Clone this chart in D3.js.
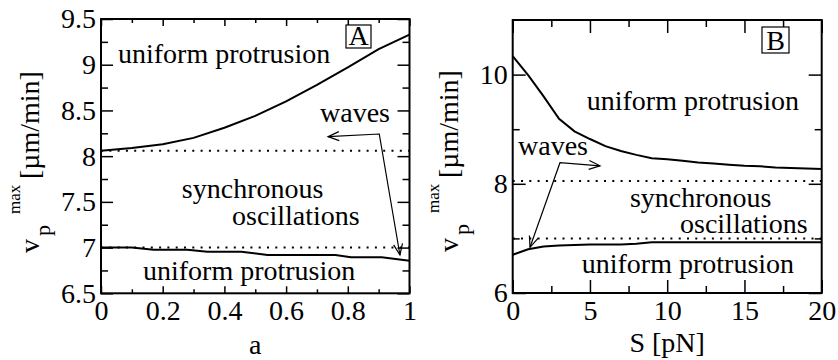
<!DOCTYPE html>
<html>
<head>
<meta charset="utf-8">
<script src="https://cdn.jsdelivr.net/npm/d3@7/dist/d3.min.js"></script>
</head>
<body style="margin:0;background:#fff">
<svg id="chart" width="838" height="360" font-family="Liberation Serif"></svg>
<script>
// Panel A: phase boundaries against a
const aGrid = [0, 0.1, 0.2, 0.3, 0.4, 0.5, 0.6, 0.7, 0.8, 0.9, 1];
const aUpper = [8.06, 8.09, 8.13, 8.2, 8.31, 8.44, 8.6, 8.78, 8.97, 9.17, 9.33];
const aLowerGrid = [0, 0.1, 0.17, 0.28, 0.345, 0.455, 0.54, 0.76, 0.81, 0.91, 1];
const aLower = [7.0, 7.0, 6.977, 6.977, 6.955, 6.955, 6.919, 6.919, 6.894, 6.894, 6.856];
const aDotted = [8.06, 7.0];
const aXTicks = [0, 0.2, 0.4, 0.6, 0.8, 1];
const aXMinor = [0.1, 0.3, 0.5, 0.7, 0.9];
const aYTicks = [6.5, 7, 7.5, 8, 8.5, 9, 9.5];
const aYMinor = [6.75, 7.25, 7.75, 8.25, 8.75, 9.25];

// Panel B: phase boundaries against S [pN]
const sGrid = [0, 1, 2, 3, 4, 5, 6, 7, 8, 9, 10, 11, 12, 13, 14, 15, 16, 17, 18, 19, 20];
const sUpper = [10.34, 9.99, 9.6, 9.19, 8.96, 8.82, 8.69, 8.6, 8.53, 8.47, 8.45, 8.42, 8.39, 8.37, 8.35, 8.33, 8.32, 8.3, 8.29, 8.28, 8.27];
const sLower = [6.7, 6.8, 6.85, 6.87, 6.88, 6.89, 6.89, 6.89, 6.9, 6.93, 6.93, 6.93, 6.93, 6.93, 6.93, 6.93, 6.93, 6.93, 6.93, 6.93, 6.93];
const sDotted = [8.05, 7.0];
const sXTicks = [0, 5, 10, 15, 20];
const sXMinor = [2.5, 7.5, 12.5, 17.5];
const sYTicks = [6, 8, 10];
const sYMinor = [7, 9];

// region labels [text, x, y] in data units
const aLabels = [
  ["uniform protrusion", 0.055, 9.02],
  ["waves", 0.71, 8.373],
  ["synchronous", 0.262, 7.542],
  ["oscillations", 0.425, 7.247],
  ["uniform protrusion", 0.136, 6.645]
];
const sLabels = [
  ["uniform protrusion", 4.79, 9.352],
  ["waves", 0.343, 8.527],
  ["synchronous", 7.59, 7.575],
  ["oscillations", 10.83, 7.099],
  ["uniform protrusion", 4.47, 6.366]
];
// "waves" pointer: tip, corner, tip
const aArrow = [[0.736, 8.213], [0.902, 8.242], [0.969, 6.919]];
const sArrow = [[5.65, 8.33], [3.06, 8.386], [1.12, 6.837]];

const svg = d3.select("#chart");
const FS = 28;
const FONT = "Liberation Serif";

svg.append("defs").append("marker")
  .attr("id", "head")
  .attr("markerUnits", "userSpaceOnUse")
  .attr("markerWidth", 14).attr("markerHeight", 12)
  .attr("viewBox", "-1 -6 14 12")
  .attr("refX", 11).attr("refY", 0)
  .attr("orient", "auto-start-reverse")
  .append("path")
  .attr("d", "M0,-4.5L11,0L0,4.5")
  .attr("fill", "none").attr("stroke", "#000").attr("stroke-width", 1.2);

function addText(parent, str, x, y, size) {
  return parent.append("text")
    .attr("x", x).attr("y", y)
    .attr("font-family", FONT).attr("font-size", size)
    .text(str);
}

function drawPanel(p) {
  const x = d3.scaleLinear().domain(p.xDomain).range([p.left, p.right]);
  const y = d3.scaleLinear().domain(p.yDomain).range([p.bottom, p.top]);
  const g = svg.append("g");
  const fmt = d => String(d);

  function axis(gen, scale, vals, len, pad, labels, tr) {
    const a = gen(scale).tickValues(vals).tickSizeInner(-len).tickSizeOuter(0)
      .tickPadding(pad).tickFormat(labels ? fmt : "");
    const ag = g.append("g").attr("transform", tr).call(a);
    ag.select(".domain").remove();
    ag.attr("font-family", FONT).attr("font-size", FS);
    ag.selectAll("line").attr("stroke-width", 1.5);
    ag.selectAll("text").attr("fill", "#000").attr("font-family", FONT);
    return ag;
  }

  axis(d3.axisBottom, x, p.xTicks, p.xMajor, 7, true, `translate(0,${p.bottom})`);
  axis(d3.axisBottom, x, p.xMinor, p.xMinorLen, 7, false, `translate(0,${p.bottom})`);
  axis(d3.axisTop, x, p.xTicks, p.xMajor, 7, false, `translate(0,${p.top})`);
  axis(d3.axisTop, x, p.xMinor, p.xMinorLen, 7, false, `translate(0,${p.top})`);
  axis(d3.axisLeft, y, p.yTicks, p.yMajor, 5, true, `translate(${p.left},0)`);
  axis(d3.axisLeft, y, p.yMinor, p.yMinorLen, 5, false, `translate(${p.left},0)`);
  axis(d3.axisRight, y, p.yTicks, p.yMajor, 5, false, `translate(${p.right},0)`);
  axis(d3.axisRight, y, p.yMinor, p.yMinorLen, 5, false, `translate(${p.right},0)`);

  // dotted phase lines
  g.selectAll(".dot").data(p.dotted).join("line")
    .attr("x1", x(p.xDomain[0])).attr("x2", x(p.xDomain[1]))
    .attr("y1", d => y(d)).attr("y2", d => y(d))
    .attr("stroke", "#000").attr("stroke-width", 2)
    .attr("stroke-dasharray", "2,6.3");

  const line = d3.line().x(d => x(d[0])).y(d => y(d[1]));
  p.curves.forEach(c => {
    g.append("path").datum(c[0].map((v, i) => [v, c[1][i]]))
      .attr("d", line).attr("fill", "none")
      .attr("stroke", "#000").attr("stroke-width", 2);
  });

  g.append("path").datum(p.arrow).attr("d", line)
    .attr("fill", "none").attr("stroke", "#000").attr("stroke-width", 1.2)
    .attr("marker-start", "url(#head)").attr("marker-end", "url(#head)");

  p.labels.forEach(d => addText(g, d[0], x(d[1]), y(d[2]), FS));

  g.append("rect")
    .attr("x", p.left).attr("y", p.top)
    .attr("width", p.right - p.left).attr("height", p.bottom - p.top)
    .attr("fill", "none").attr("stroke", "#000").attr("stroke-width", 2);

  // panel letter box
  const b = p.box;
  g.append("rect").attr("x", b[0]).attr("y", b[1]).attr("width", b[2]).attr("height", b[3])
    .attr("fill", "#fff").attr("stroke", "#000").attr("stroke-width", 1.2);
  addText(g, p.letter, b[0] + b[2] / 2, b[1] + b[3] - 3, FS).attr("text-anchor", "middle");

  addText(g, p.xTitle, (p.left + p.right) / 2, p.xTitleY, FS).attr("text-anchor", "middle");

  // v_p^max [µm/min]
  const yl = g.append("g").attr("transform", `translate(${p.yTitle[0]},${p.yTitle[1]}) rotate(-90)`);
  addText(yl, "v", 0, 0, FS);
  addText(yl, "p", 17, 11, 22);
  addText(yl, "max", 39, -19, 17);
  addText(yl, "[\u00b5m/min]", 74, 0, FS);
}

drawPanel({
  left: 101, right: 409.5, top: 19, bottom: 293.3,
  xDomain: [0, 1], yDomain: [6.5, 9.5],
  xTicks: aXTicks, xMinor: aXMinor, yTicks: aYTicks, yMinor: aYMinor,
  xMajor: 7, xMinorLen: 4, yMajor: 12, yMinorLen: 7,
  dotted: aDotted,
  curves: [[aGrid, aUpper], [aLowerGrid, aLower]],
  arrow: aArrow, labels: aLabels,
  box: [346, 25, 25, 23], letter: "A",
  xTitle: "a", xTitleY: 354,
  yTitle: [39, 253]
});

drawPanel({
  left: 512.7, right: 821.7, top: 20, bottom: 293,
  xDomain: [0, 20], yDomain: [6, 11],
  xTicks: sXTicks, xMinor: sXMinor, yTicks: sYTicks, yMinor: sYMinor,
  xMajor: 13, xMinorLen: 7, yMajor: 13, yMinorLen: 7,
  dotted: sDotted,
  curves: [[sGrid, sUpper], [sGrid, sLower]],
  arrow: sArrow, labels: sLabels,
  box: [762, 27, 27, 26], letter: "B",
  xTitle: "S [pN]", xTitleY: 352,
  yTitle: [458, 252]
});
</script>
</body>
</html>
